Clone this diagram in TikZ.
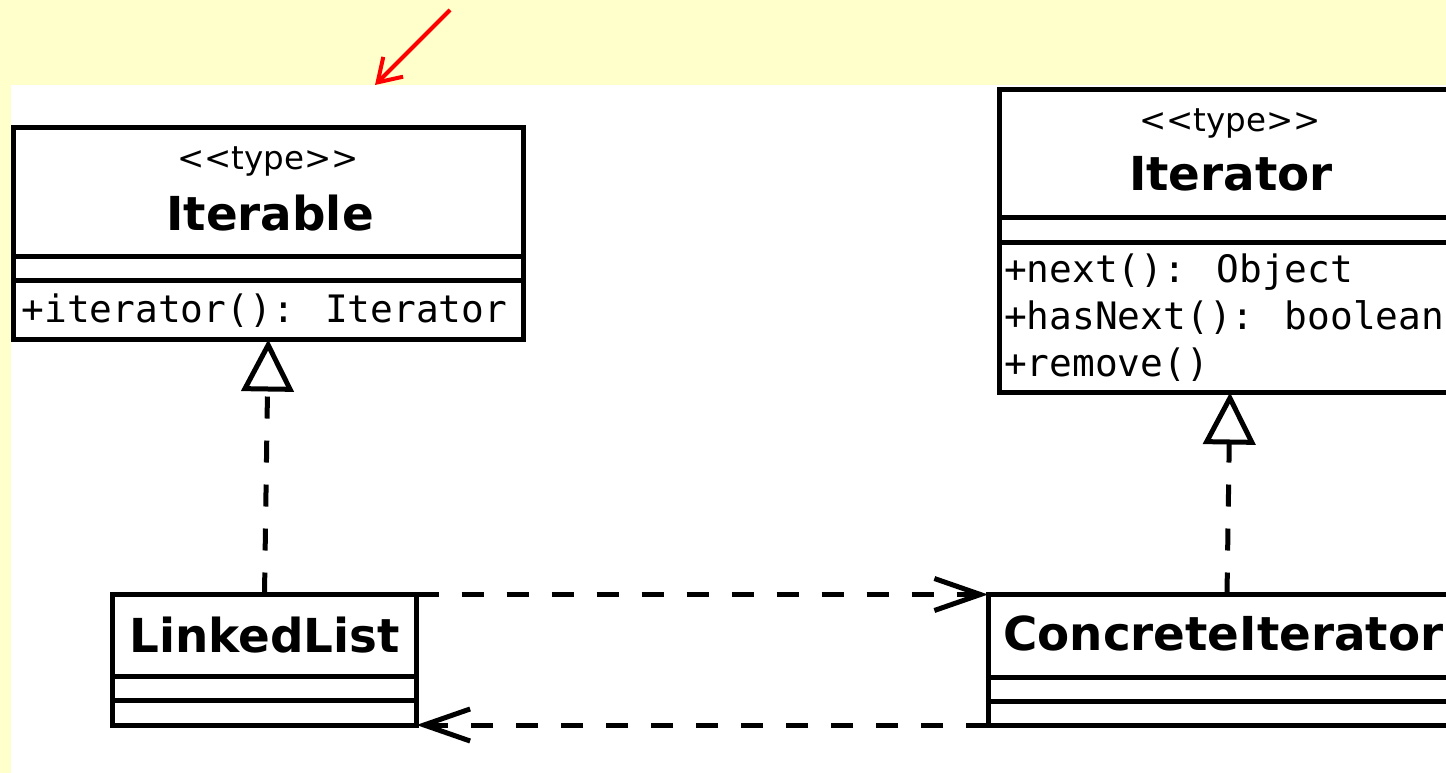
\documentclass[tikz,border=0pt]{standalone}
\usepackage{fontspec}
\newfontfamily\umlsans{DejaVu Sans}
\newfontfamily\umlmono{DejaVu Sans Mono}
\usetikzlibrary{arrows.meta}
\definecolor{paper}{RGB}{255,255,204}
\definecolor{pointer}{RGB}{255,0,0}
\begin{document}
\begin{tikzpicture}[x=1pt,y=-1pt,
  classbox/.style={draw=black,line width=5pt,fill=white,rectangle,inner sep=0pt,outer sep=0pt},
  divider/.style={line width=5pt},
  stereo/.style={font=\umlsans\fontsize{32.5}{36}\selectfont,anchor=base,inner sep=0pt},
  classname/.style={font=\umlsans\bfseries\fontsize{46.8}{52}\selectfont,anchor=base,inner sep=0pt},
  member/.style={font=\umlmono\fontsize{37.8}{42}\selectfont,anchor=base west,inner sep=0pt},
  realize/.style={line width=5pt,dash pattern=on 22pt off 22pt,
    -{Triangle[open,length=52pt,width=52pt,fill=white]}},
  depend/.style={line width=5pt,dash pattern=on 22pt off 23pt,
    -{Straight Barb[length=46pt,width=32pt]}},
]
\useasboundingbox (0,0) rectangle (1446,773);
\clip (0,0) rectangle (1446,773);
% page and drawing area
\fill[paper] (0,0) rectangle (1446,773);
\fill[white] (11,85) rectangle (1446,773);

% class boxes
\node[classbox,minimum width=509.5pt,minimum height=211.5pt] (iterable) at (268.25,233.75) {};
\node[classbox,minimum width=461pt,minimum height=303pt] (iterator) at (1230,241) {};
\node[classbox,minimum width=304pt,minimum height=130.5pt] (ll) at (264.5,659.75) {};
\node[classbox,minimum width=476pt,minimum height=130.5pt] (ci) at (1226,659.75) {};

% compartment dividers
\draw[divider] (iterable.west |- 0,256.5) -- (iterable.east |- 0,256.5);
\draw[divider] (iterable.west |- 0,280) -- (iterable.east |- 0,280);
\draw[divider] (iterator.west |- 0,217.5) -- (iterator.east |- 0,217.5);
\draw[divider] (iterator.west |- 0,242.5) -- (iterator.east |- 0,242.5);
\draw[divider] (ll.west |- 0,676.5) -- (ll.east |- 0,676.5);
\draw[divider] (ll.west |- 0,700.5) -- (ll.east |- 0,700.5);
\draw[divider] (ci.west |- 0,677) -- (ci.east |- 0,677);
\draw[divider] (ci.west |- 0,701) -- (ci.east |- 0,701);

% realizations
\draw[realize] (ll.north) -- (iterable.south);
\draw[realize] ([xshift=1pt]ci.north) -- (iterator.south);

% dependencies
\draw[depend] (ll.north east) -- (ci.north west);
\draw[depend] (ci.south west) -- (ll.south east);

% texts
\node[stereo] (iterable-st) at (268,170) {<\kern0pt<type>\kern0pt>};
\node[classname] (iterable-nm) at (270,230) {Iterable};
\node[member] (iterable-m1) at (21.5,322) {+iterator(): Iterator};

\node[stereo] (iterator-st) at (1230,132) {<\kern0pt<type>\kern0pt>};
\node[classname] (iterator-nm) at (1231,190) {Iterator};
\node[member] (iterator-m1) at (1004,282) {+next(): Object};
\node[member] (iterator-m2) at (1004,329) {+hasNext(): boolean};
\node[member] (iterator-m3) at (1004,376) {+remove()};

\node[classname] (ll-nm) at (264.5,652) {LinkedList};
\node[classname,anchor=base west] (ci-nm) at (1003,650) {ConcreteIterator};

% red pointer
\coordinate (ptrtail) at (450,10);
\coordinate (ptrhead) at (375,85);
\draw[pointer,line width=4pt,-{Straight Barb[length=22pt,width=28pt]}] (ptrtail) -- (ptrhead);
\end{tikzpicture}
\end{document}
